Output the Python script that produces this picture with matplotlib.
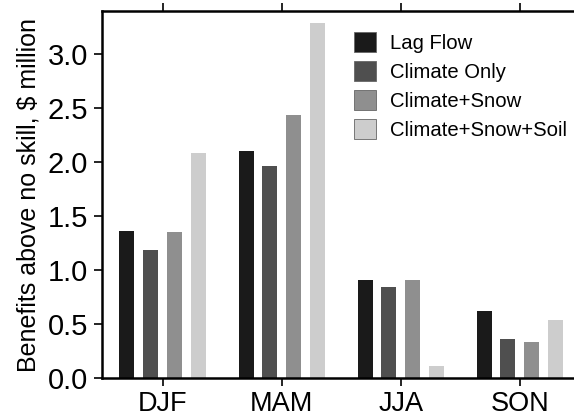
import numpy as np
import matplotlib
matplotlib.use("Agg")
import matplotlib.pyplot as plt

seasons = ["DJF", "MAM", "JJA", "SON"]
lag_flow = [1.36, 2.10, 0.91, 0.62]
climate_only = [1.19, 1.96, 0.84, 0.36]
climate_snow = [1.35, 2.44, 0.91, 0.33]
climate_snow_soil = [2.08, 3.29, 0.11, 0.54]

series = [("Lag Flow", lag_flow, "#1a1a1a"),
          ("Climate Only", climate_only, "#4f4f4f"),
          ("Climate+Snow", climate_snow, "#8f8f8f"),
          ("Climate+Snow+Soil", climate_snow_soil, "#cdcdcd")]

plt.rcParams["font.family"] = ["Liberation Sans", "DejaVu Sans"]

fig = plt.figure(figsize=(5.74, 4.19), dpi=100)
ax = fig.add_axes([102 / 574, 1 - 378 / 419, 472 / 574, 367 / 419])

x = np.arange(len(seasons))
offsets = [-0.3, -0.1, 0.1, 0.3]
for (name, vals, col), off in zip(series, offsets):
    ax.bar(x + off, vals, width=0.126, color=col, label=name)

ax.set_xlim(-0.51, 3.456)
ax.set_ylim(0, 3.40)
ax.set_xticks(x)
ax.set_xticklabels(seasons)
ax.set_yticks(np.arange(0, 3.01, 0.5))
ax.set_yticklabels([f"{v:.1f}" for v in np.arange(0, 3.01, 0.5)])
ax.tick_params(axis="both", width=1.2, length=6, direction="out")
ax.tick_params(axis="x", top=True, pad=3, labelsize=19.5)
ax.tick_params(axis="y", pad=4, labelsize=21)
ax.spines["right"].set_visible(False)
for s in ("left", "bottom", "top"):
    ax.spines[s].set_linewidth(1.8)
ax.set_ylabel("Benefits above no skill, $ million", fontsize=18, labelpad=5)

leg = ax.legend(loc="upper right", bbox_to_anchor=(1.012, 0.975), frameon=False,
                fontsize=14.6, handlelength=1.12, handleheight=1.12,
                labelspacing=0.4, handletextpad=0.7, borderaxespad=0.2)
for p in leg.get_patches():
    p.set_edgecolor("#666666")
    p.set_linewidth(0.6)

fig.savefig("out.png", dpi=100)
